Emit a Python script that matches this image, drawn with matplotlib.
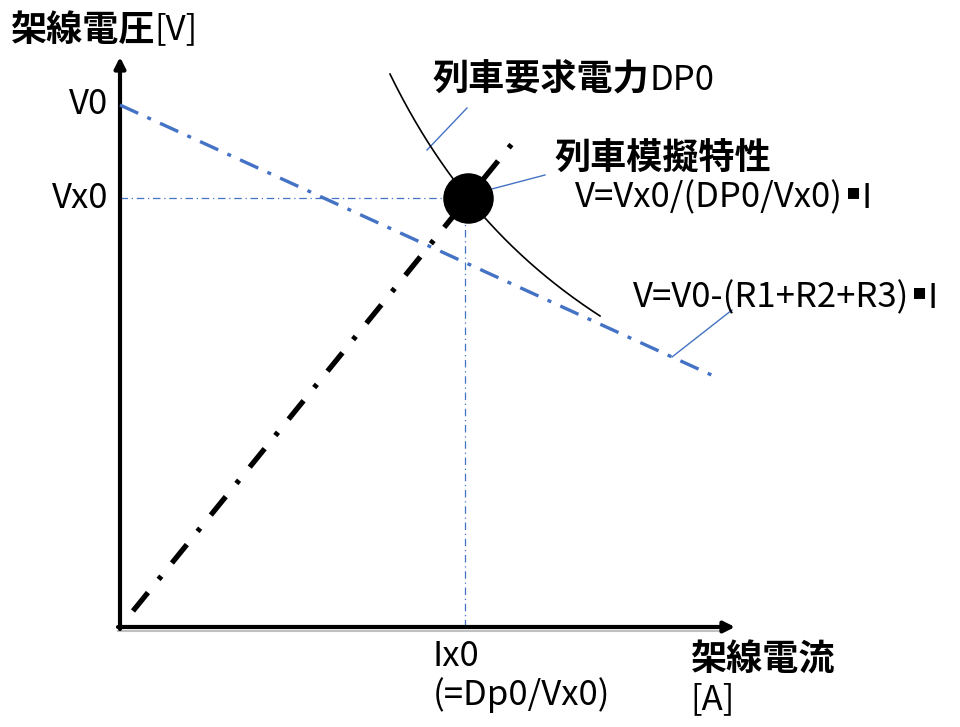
import numpy as np
import matplotlib.pyplot as plt

plt.rcParams["font.family"] = ["Noto Sans CJK JP", "DejaVu Sans"]

# operating values (arbitrary schematic units, origin at the axes corner)
V0 = 522.0          # no-load overhead voltage
Vx0 = 429.0         # voltage at the operating point
Ix0 = 348.0         # current at the operating point
DP0 = Vx0 * Ix0     # train power demand
R_sum = 0.4565      # R1 + R2 + R3

load_I = [0.0, 598.0]        # span of the supply line
demand_I = [270.0, 480.0]    # span of the constant-power curve
train_I = [13.0, 392.0]      # span of the train characteristic

axis_I_max = 615.0
axis_V_max = 570.0

BLUE = "#4472C4"

fig = plt.figure(figsize=(9.6, 7.27), dpi=100)
ax = fig.add_axes([0, 0, 1, 1])
ax.set_xlim(-120, 840)
ax.set_ylim(-100, 627)
ax.axis("off")

# axes with arrow heads
ax.plot([-2, axis_I_max - 10], [-3.5, -3.5], color="#c0c0c0", lw=1.5, zorder=1)
ax.annotate("", xy=(axis_I_max, 0), xytext=(-2, 0),
            arrowprops=dict(arrowstyle="-|>", lw=3, color="black",
                            mutation_scale=16, shrinkA=0, shrinkB=0))
ax.annotate("", xy=(0, axis_V_max), xytext=(0, -2),
            arrowprops=dict(arrowstyle="-|>", lw=3, color="black",
                            mutation_scale=16, shrinkA=0, shrinkB=0))

# supply line V = V0 - (R1+R2+R3) I
I = np.array(load_I)
ax.plot(I, V0 - R_sum * I, color=BLUE, lw=2.4, dashes=(6, 3, 1.2, 3), zorder=3)

# constant power curve V = DP0 / I
I = np.linspace(demand_I[0], demand_I[1], 200)
ax.plot(I, DP0 / I, color="black", lw=1.2, zorder=3)

# train characteristic V = (Vx0 / Ix0) I
I = np.array(train_I)
ax.plot(I, Vx0 / Ix0 * I, color="black", lw=3.8, dashes=(4.5, 3.2, 0.8, 3.2),
        zorder=3)

# guide lines to the operating point
ax.plot([0, Ix0], [Vx0, Vx0], color=BLUE, lw=0.9, dashes=(6, 3, 1, 3), zorder=2)
ax.plot([Ix0 - 3, Ix0 - 3], [0, Vx0], color=BLUE, lw=0.9, dashes=(6, 3, 1, 3),
        zorder=2)

# operating point
ax.scatter([Ix0], [Vx0], s=1250, color="black", zorder=5)

# leader lines
ax.plot([347, 307], [519, 477], color=BLUE, lw=1)
ax.plot([425, 368], [452, 437], color=BLUE, lw=1)
ax.plot([612, 552], [317, 270], color=BLUE, lw=1)

# labels
cjk = dict(fontsize=26, fontweight="bold", color="black")
lat = dict(fontsize=25, color="black")


def formula(x, y, left, right):
    # "left ▪ right" with a small square as the product sign
    t = ax.text(x, y, left, ha="left", va="center", **lat)
    d = ax.annotate("▪", xycoords=t, xy=(1, 0.5), xytext=(2, 4),
                    textcoords="offset points", ha="left", va="center",
                    fontsize=16, family="DejaVu Sans")
    ax.annotate(right, xycoords=t, xy=(1, 0.5), xytext=(13, 0),
                textcoords="offset points", ha="left", va="center", **lat)


t = ax.text(-110, 597, "架線電圧", ha="left", va="center", **cjk)
ax.annotate("[V]", xycoords=t, xy=(1, 0.5), ha="left", va="center", **lat)
ax.text(-12, V0, "V0", ha="right", va="center", **lat)
ax.text(-12, Vx0, "Vx0", ha="right", va="center", **lat)

t = ax.text(313, 547, "列車要求電力", ha="left", va="center", **cjk)
ax.annotate("DP0", xycoords=t, xy=(1, 0.5), ha="left", va="center", **lat)

ax.text(435, 468, "列車模擬特性", ha="left", va="center", **cjk)
formula(455, 429, "V=Vx0/(DP0/Vx0)", "I")
formula(513, 329, "V=V0-(R1+R2+R3)", "I")

ax.text(313, -30, "Ix0", ha="left", va="center", **lat)
ax.text(313, -68, "(=Dp0/Vx0)", ha="left", va="center", **lat)
ax.text(570, -33, "架線電流", ha="left", va="center", **cjk)
ax.text(570, -73, "[A]", ha="left", va="center", **lat)

fig.savefig("out.png", dpi=100)
